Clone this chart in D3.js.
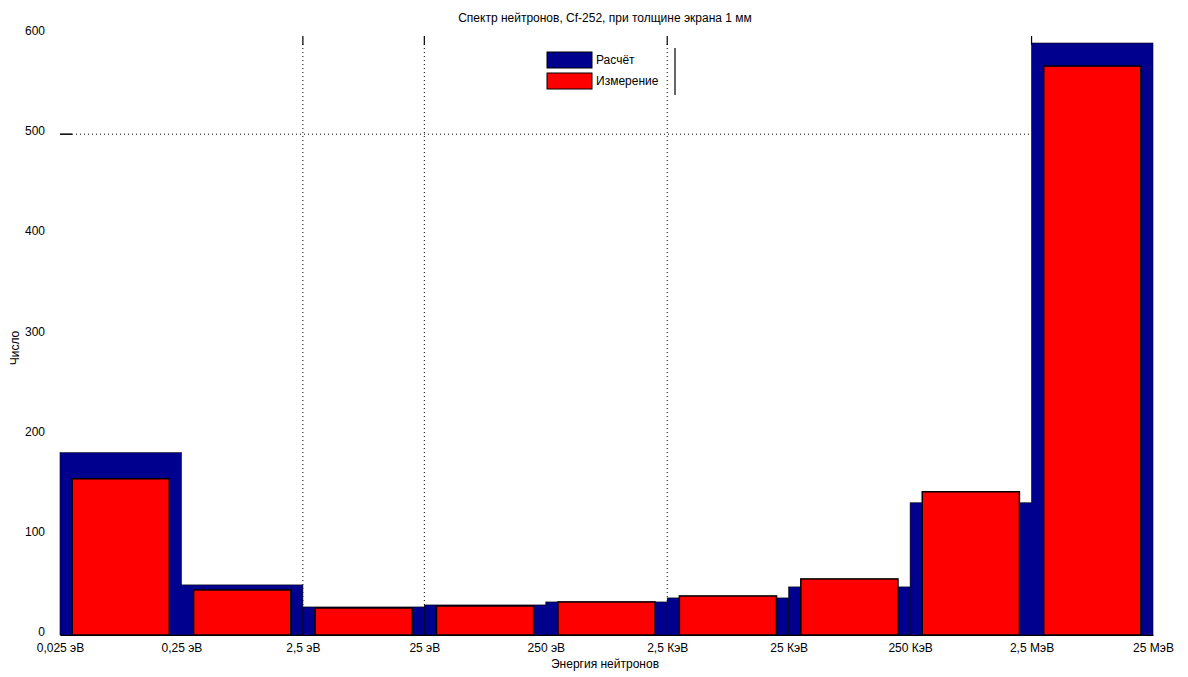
<!DOCTYPE html>
<html><head><meta charset="utf-8">
<script src="https://cdn.jsdelivr.net/npm/d3@7/dist/d3.min.js"></script>
<style>body{margin:0;background:#fff}svg{display:block;font-family:"Liberation Sans",Arial,sans-serif}</style>
</head><body><svg id="c" width="1188" height="677"></svg>
<script>
const edgeLabels = ["0,025 эВ","0,25 эВ","2,5 эВ","25 эВ","250 эВ","2,5 КэВ","25 КэВ","250 КэВ","2,5 МэВ","25 МэВ"];
const bins = ["b0","b1","b2","b3","b4","b5","b6","b7","b8"];
const calcValues = [182, 50, 28, 30, 33, 37, 48, 132, 591];
const measValues = [156, 45, 27, 29, 33, 39, 56, 143, 568];
const yTicks = [0,100,200,300,400,500,600];
const gridX = ["2,5 эВ","25 эВ","2,5 КэВ"];
const gridY = [500];
const seriesNames = ["Расчёт","Измерение"];
const titleText = "Спектр нейтронов, Cf-252, при толщине экрана 1 мм";
const xTitle = "Энергия нейтронов";
const yTitle = "Число";

const svg = d3.select("#c");
const L = 60, R = 1153, T = 34, B = 635;
const FS = 12;
const xb = d3.scaleBand().domain(bins).range([L, R]).paddingInner(0).paddingOuter(0);
const xe = d3.scalePoint().domain(edgeLabels).range([L, R]);
const y = d3.scaleLinear().domain([0, 600]).range([B, T]);

// grid
const g = svg.append("g");
g.selectAll("line.gx").data(gridX).join("line")
  .attr("x1", d => xe(d)).attr("x2", d => xe(d)).attr("y1", T + 10).attr("y2", B)
  .attr("stroke", "#000").attr("stroke-width", 1).attr("stroke-dasharray", "1,3");
g.selectAll("line.gy").data(gridY).join("line")
  .attr("x1", L + 12).attr("x2", xe("2,5 МэВ")).attr("y1", d => y(d)).attr("y2", d => y(d))
  .attr("stroke", "#000").attr("stroke-width", 1).attr("stroke-dasharray", "1,3");
// top ticks
g.selectAll("line.tt").data(["2,5 эВ","25 эВ","2,5 КэВ","2,5 МэВ"]).join("line")
  .attr("x1", d => xe(d)).attr("x2", d => xe(d)).attr("y1", T + 2).attr("y2", T + 11)
  .attr("stroke", "#000").attr("stroke-width", 1.2);
g.selectAll("line.lt").data(gridY).join("line")
  .attr("x1", L).attr("x2", L + 12).attr("y1", d => y(d)).attr("y2", d => y(d))
  .attr("stroke", "#000").attr("stroke-width", 1.5);

// blue bars
svg.append("g").selectAll("rect").data(calcValues).join("rect")
  .attr("x", (d, i) => xb(bins[i])).attr("width", xb.bandwidth())
  .attr("y", d => y(d)).attr("height", d => B - y(d))
  .attr("fill", "#00008f").attr("stroke", "#000").attr("stroke-width", 0.6);
// red bars
const rw = xb.bandwidth() * 0.8;
svg.append("g").selectAll("rect").data(measValues).join("rect")
  .attr("x", (d, i) => xb(bins[i]) + (xb.bandwidth() - rw) / 2).attr("width", rw)
  .attr("y", d => y(d)).attr("height", d => B - y(d))
  .attr("fill", "#ff0000").attr("stroke", "#000").attr("stroke-width", 1.5);

// x axis
const xa = svg.append("g").attr("transform", `translate(0,${B})`)
  .call(d3.axisBottom(xe).tickSize(0).tickPadding(8));
xa.select(".domain").attr("stroke", "#000").attr("stroke-width", 1);
xa.selectAll("text").attr("font-size", FS).attr("fill", "#000").attr("font-family", "Liberation Sans, Arial, sans-serif");

// y axis labels
const ya = svg.append("g").attr("transform", `translate(${L},0)`)
  .call(d3.axisLeft(y).tickValues(yTicks).tickSize(0).tickPadding(15));
ya.select(".domain").remove();
ya.selectAll("text").attr("font-size", FS).attr("fill", "#000").attr("dy", "0.05em")
  .attr("font-family", "Liberation Sans, Arial, sans-serif");

// titles
svg.append("text").attr("x", 605).attr("y", 22).attr("text-anchor", "middle")
  .attr("font-size", FS).text(titleText);
svg.append("text").attr("x", 605).attr("y", 668).attr("text-anchor", "middle")
  .attr("font-size", FS).text(xTitle);
svg.append("text").attr("transform", "translate(19,348) rotate(-90)").attr("text-anchor", "middle")
  .attr("font-size", FS).text(yTitle);

// legend
const lg = svg.append("g");
const colors = ["#00008f", "#ff0000"];
seriesNames.forEach((n, i) => {
  lg.append("rect").attr("x", 547).attr("y", 52 + i * 21).attr("width", 45).attr("height", 16)
    .attr("fill", colors[i]).attr("stroke", "#000").attr("stroke-width", 1);
  lg.append("text").attr("x", 596).attr("y", 64 + i * 21).attr("font-size", FS).text(n);
});
lg.append("line").attr("x1", 675).attr("x2", 675).attr("y1", 48).attr("y2", 95)
  .attr("stroke", "#000").attr("stroke-width", 1.2);
</script></body></html>
